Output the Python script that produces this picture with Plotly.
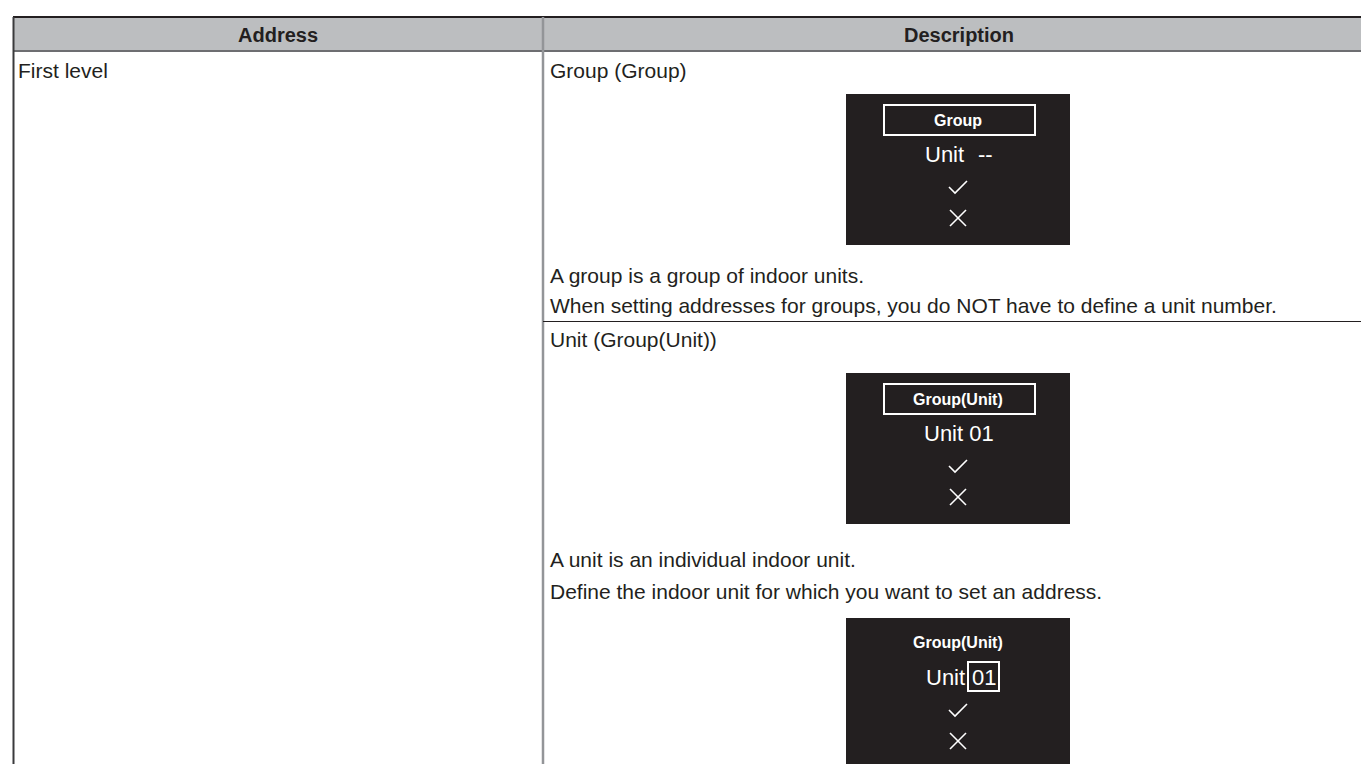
import plotly.graph_objects as go

W, H = 1369, 764

# ---- table content ----
header_labels = ["Address", "Description"]
address_text = ["First level"]
desc_group_lines = ["Group (Group)",
                    "A group is a group of indoor units.",
                    "When setting addresses for groups, you do NOT have to define a unit number."]
desc_unit_lines = ["Unit (Group(Unit))",
                   "A unit is an individual indoor unit.",
                   "Define the indoor unit for which you want to set an address."]
screen_titles = ["Group", "Group(Unit)", "Group(Unit)"]
screen_unit_labels = ["Unit", "Unit", "Unit"]
screen_unit_values = ["--", "01", "01"]

# ---- layout geometry ----
TL, TR, TT = 5, 1366, 9          # table left/right/top
HB = 43                          # header bottom
CD = 535                         # column divider
SEP = 313.5                      # row separator in description column
TX = 540                         # text x in description column
FONT = "Liberation Sans, Arial, sans-serif"
SCR_FONT = "Liberation Sans Narrow, Liberation Sans, Arial, sans-serif"
TXT = "#231f20"
BODY = 21
HEAD = 20

desc_group_y = [62, 267, 297]
desc_unit_y = [331, 551, 583]
screen_tops = [86, 365, 610]
SCR_W, SCR_H = 224, 151
SCR_X0 = 838

shapes = []
ann = []

def line(x0, y0, x1, y1, color, width):
    shapes.append(dict(type="line", x0=x0, y0=y0, x1=x1, y1=y1, xref="x", yref="y",
                       line=dict(color=color, width=width)))

def text(x, y, s, size=BODY, color=TXT, bold=False, anchor="left", font=FONT):
    ann.append(dict(x=x, y=y, xref="x", yref="y", text=("<b>%s</b>" % s) if bold else s,
                    showarrow=False, xanchor=anchor, yanchor="middle",
                    font=dict(family=font, size=size, color=color)))

# header background
shapes.append(dict(type="rect", x0=TL, x1=TR, y0=TT, y1=HB, xref="x", yref="y",
                   fillcolor="#bcbec0", line=dict(width=0), layer="below"))
line(TL, TT, TR, TT, "#231f20", 2)
line(TL, HB, TR, HB, "#6d6e71", 2)
line(TL + 0.5, TT, TL + 0.5, H, "#3a3a3c", 2)
line(CD, TT, CD, H, "#939598", 2.5)
line(TR, TT, TR, H, "#939598", 2.5)
line(CD, SEP, TR, SEP, "#231f20", 1)

text((TL + CD) / 2, 27, header_labels[0], size=HEAD, bold=True, anchor="center")
text((CD + TR) / 2, 27, header_labels[1], size=HEAD, bold=True, anchor="center")

text(TL + 3, 62, address_text[0])
for s, y in zip(desc_group_lines, desc_group_y):
    text(TX, y, s)
for s, y in zip(desc_unit_lines, desc_unit_y):
    text(TX, y, s)

def screen(i):
    top = screen_tops[i]
    x0, x1 = SCR_X0, SCR_X0 + SCR_W
    cx = (x0 + x1) / 2
    shapes.append(dict(type="rect", x0=x0, x1=x1, y0=top, y1=min(top + SCR_H, H + 5),
                       xref="x", yref="y", fillcolor="#231f20", line=dict(width=0)))
    if i < 2:
        shapes.append(dict(type="rect", x0=876, x1=1027, y0=top + 11, y1=top + 41,
                           xref="x", yref="y", line=dict(color="white", width=2)))
        text(cx, top + 26, screen_titles[i], size=16, color="white", bold=True,
             anchor="center", font=SCR_FONT)
        yu = top + 60
        if i == 0:
            text(cx - 14, yu, screen_unit_labels[i], size=22, color="white", anchor="center", font=SCR_FONT)
            text(cx + 27, yu, screen_unit_values[i], size=22, color="white", anchor="center", font=SCR_FONT)
        else:
            text(cx + 1, yu, screen_unit_labels[i] + " " + screen_unit_values[i], size=22,
                 color="white", anchor="center", font=SCR_FONT)
        yc, yx = top + 93, top + 124
    else:
        text(cx, top + 24, screen_titles[i], size=16, color="white", bold=True,
             anchor="center", font=SCR_FONT)
        yu = top + 59
        text(cx - 13, yu, screen_unit_labels[i], size=22, color="white", anchor="center", font=SCR_FONT)
        shapes.append(dict(type="rect", x0=960, x1=991, y0=top + 44, y1=top + 73,
                           xref="x", yref="y", line=dict(color="white", width=2)))
        text(975.5, yu, screen_unit_values[i], size=22, color="white", anchor="center", font=SCR_FONT)
        yc, yx = top + 92, top + 123
    # check mark
    shapes.append(dict(type="path", path="M %f %f L %f %f L %f %f" % (cx - 9, yc, cx - 3, yc + 6, cx + 9, yc - 6),
                       xref="x", yref="y", line=dict(color="white", width=1.6)))
    # cross
    line(cx - 8, yx - 8, cx + 8, yx + 8, "white", 1.6)
    line(cx - 8, yx + 8, cx + 8, yx - 8, "white", 1.6)

for i in range(3):
    screen(i)

fig = go.Figure()
fig.update_layout(
    width=W, height=H, margin=dict(l=0, r=0, t=0, b=0),
    paper_bgcolor="white", plot_bgcolor="white",
    xaxis=dict(range=[0, W], visible=False, fixedrange=True),
    yaxis=dict(range=[H, 0], visible=False, fixedrange=True),
    shapes=shapes, annotations=ann, showlegend=False,
)
fig.write_html("out.html", config={"displayModeBar": False})
